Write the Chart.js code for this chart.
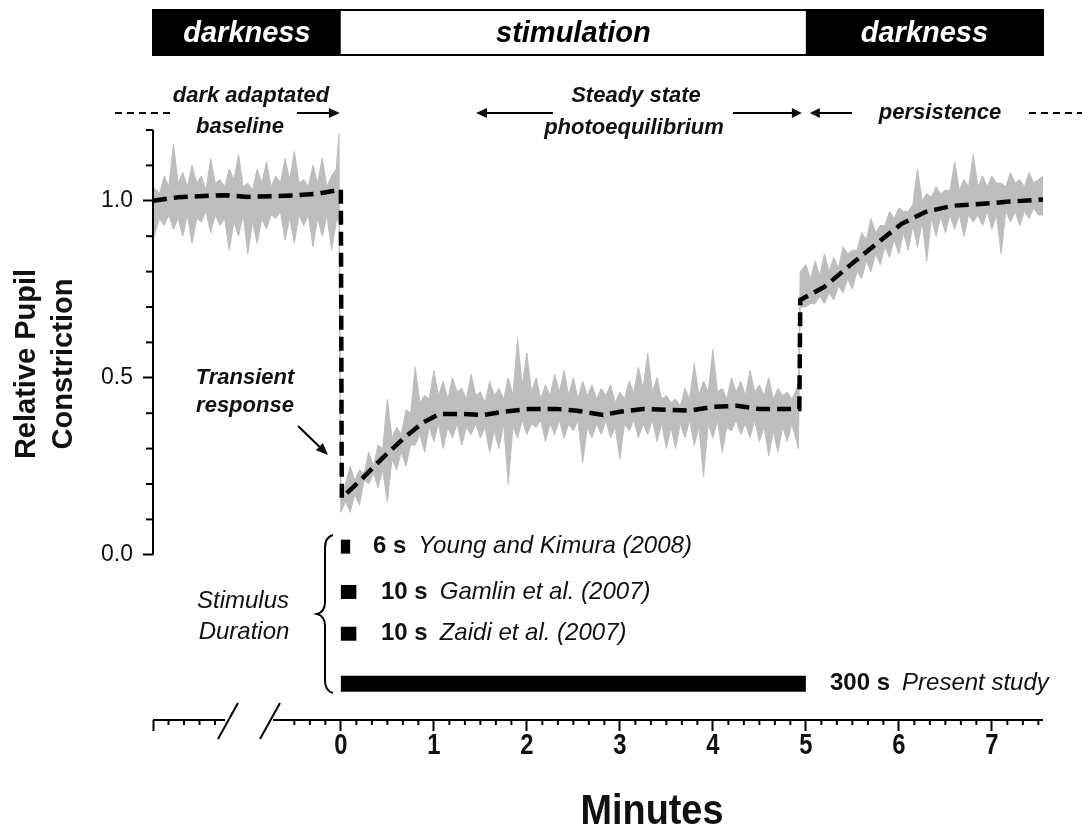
<!DOCTYPE html>
<html>
<head>
<meta charset="utf-8">
<title>Relative pupil constriction</title>
<script src="https://cdn.jsdelivr.net/npm/chart.js@4.4.1/dist/chart.umd.min.js"></script>
<style>
  html, body { margin: 0; padding: 0; background: #fff; }
  canvas { display: block; }
</style>
</head>
<body>
<canvas id="pupilChart" width="1082" height="837"></canvas>
<script>
// ---- data (time in minutes, relative constriction) ----
const meanTime = [-2.02, -1.75, -1.25, -1.0, -0.5, -0.25, 0.0,
  0.01, 0.24, 0.45, 0.67, 0.88, 1.06, 1.31, 1.53, 1.74, 2.03, 2.32, 2.54, 2.82, 3.0,
  3.25, 3.54, 3.75, 4.0, 4.26, 4.5, 4.86, 4.93,
  4.94, 5.2, 5.48, 5.77, 6.03, 6.29, 6.58, 6.87, 7.16, 7.55];
const meanValue = [1.0, 1.01, 1.016, 1.011, 1.015, 1.02, 1.032,
  0.161, 0.218, 0.274, 0.328, 0.373, 0.398, 0.398, 0.395, 0.404, 0.412, 0.412, 0.407, 0.395, 0.404,
  0.412, 0.409, 0.407, 0.418, 0.421, 0.412, 0.412, 0.412,
  0.72, 0.757, 0.819, 0.881, 0.935, 0.969, 0.986, 0.991, 0.997, 1.004];

// grey envelope of the raw trace (upper / lower edge)
const bandTime = [
  -2.02, -1.95, -1.9, -1.85, -1.8, -1.75, -1.7, -1.65, -1.6, -1.55, -1.5, -1.45, -1.4, -1.35, -1.3, -1.25, -1.2, -1.15, -1.1, -1.05,
  -1.0, -0.95, -0.9, -0.85, -0.8, -0.75, -0.7, -0.65, -0.6, -0.55, -0.5, -0.45, -0.4, -0.35, -0.3, -0.25, -0.2, -0.15, -0.1, -0.05, -0.02,
  0.0, 0.05, 0.1, 0.15, 0.2, 0.25, 0.3, 0.35, 0.4, 0.45, 0.5, 0.55, 0.6, 0.65, 0.7, 0.75, 0.8, 0.85, 0.9, 0.95,
  1.0, 1.05, 1.1, 1.15, 1.2, 1.25, 1.3, 1.35, 1.4, 1.45, 1.5, 1.55, 1.6, 1.65, 1.7, 1.75, 1.8, 1.85, 1.9, 1.95,
  2.0, 2.05, 2.1, 2.15, 2.2, 2.25, 2.3, 2.35, 2.4, 2.45, 2.5, 2.55, 2.6, 2.65, 2.7, 2.75, 2.8, 2.85, 2.9, 2.95,
  3.0, 3.05, 3.1, 3.15, 3.2, 3.25, 3.3, 3.35, 3.4, 3.45, 3.5, 3.55, 3.6, 3.65, 3.7, 3.75, 3.8, 3.85, 3.9, 3.95,
  4.0, 4.05, 4.1, 4.15, 4.2, 4.25, 4.3, 4.35, 4.4, 4.45, 4.5, 4.55, 4.6, 4.65, 4.7, 4.75, 4.8, 4.85, 4.92,
  4.94, 5.0, 5.05, 5.1, 5.15, 5.2, 5.25, 5.3, 5.35, 5.4, 5.45, 5.5, 5.55, 5.6, 5.65, 5.7, 5.75, 5.8, 5.85, 5.9, 5.95,
  6.0, 6.05, 6.1, 6.15, 6.2, 6.25, 6.3, 6.35, 6.4, 6.45, 6.5, 6.55, 6.6, 6.65, 6.7, 6.75, 6.8, 6.85, 6.9, 6.95,
  7.0, 7.05, 7.1, 7.15, 7.2, 7.25, 7.3, 7.35, 7.4, 7.45, 7.5, 7.55];
const bandUpper = [
  1.04, 1.02, 1.07, 1.04, 1.16, 1.05, 1.08, 1.04, 1.10, 1.05, 1.07, 1.03, 1.12, 1.05, 1.06, 1.04, 1.09, 1.06, 1.13, 1.04,
  1.05, 1.03, 1.09, 1.05, 1.11, 1.04, 1.07, 1.05, 1.12, 1.06, 1.14, 1.05, 1.06, 1.04, 1.10, 1.05, 1.12, 1.04, 1.07, 1.09, 1.19,
  0.17, 0.20, 0.25, 0.21, 0.24, 0.23, 0.29, 0.25, 0.31, 0.30, 0.44, 0.33, 0.36, 0.34, 0.41, 0.40, 0.53, 0.43, 0.45, 0.44,
  0.52, 0.45, 0.49, 0.44, 0.50, 0.46, 0.47, 0.44, 0.51, 0.45, 0.46, 0.43, 0.49, 0.45, 0.47, 0.44, 0.50, 0.45, 0.61, 0.48,
  0.57, 0.46, 0.50, 0.44, 0.48, 0.45, 0.51, 0.46, 0.52, 0.45, 0.50, 0.44, 0.49, 0.45, 0.48, 0.44, 0.47, 0.45, 0.48, 0.43,
  0.46, 0.44, 0.49, 0.46, 0.53, 0.47, 0.57, 0.46, 0.50, 0.44, 0.45, 0.43, 0.44, 0.42, 0.47, 0.44, 0.54, 0.45, 0.49, 0.46,
  0.58, 0.46, 0.47, 0.44, 0.50, 0.46, 0.49, 0.45, 0.52, 0.46, 0.48, 0.45, 0.50, 0.44, 0.47, 0.45, 0.46, 0.44, 0.48,
  0.80, 0.82, 0.78, 0.83, 0.79, 0.85, 0.80, 0.84, 0.81, 0.87, 0.85, 0.86, 0.86, 0.91, 0.89, 0.95, 0.91, 0.93, 0.93, 0.97, 0.95,
  0.98, 0.97, 0.97, 0.99, 1.09, 1.00, 1.02, 1.01, 1.04, 1.02, 1.03, 1.03, 1.11, 1.03, 1.06, 1.04, 1.13, 1.04, 1.07, 1.04,
  1.07, 1.05, 1.05, 1.04, 1.08, 1.05, 1.06, 1.04, 1.08, 1.05, 1.06, 1.07];
const bandLower = [
  0.89, 0.95, 0.93, 0.96, 0.92, 0.95, 0.90, 0.96, 0.88, 0.95, 0.94, 0.97, 0.91, 0.96, 0.93, 0.95, 0.86, 0.94, 0.90, 0.96,
  0.85, 0.94, 0.88, 0.95, 0.92, 0.96, 0.95, 0.97, 0.89, 0.95, 0.88, 0.96, 0.93, 0.96, 0.87, 0.95, 0.90, 0.96, 0.86, 0.94, 0.95,
  0.12, 0.15, 0.12, 0.17, 0.14, 0.21, 0.20, 0.23, 0.19, 0.24, 0.15, 0.27, 0.24, 0.29, 0.25, 0.31, 0.31, 0.34, 0.29, 0.36,
  0.32, 0.37, 0.30, 0.36, 0.33, 0.37, 0.31, 0.36, 0.34, 0.37, 0.33, 0.36, 0.29, 0.35, 0.30, 0.37, 0.20, 0.36, 0.33, 0.38,
  0.34, 0.37, 0.36, 0.38, 0.32, 0.37, 0.34, 0.38, 0.33, 0.37, 0.35, 0.38, 0.26, 0.36, 0.33, 0.37, 0.34, 0.38, 0.33, 0.36,
  0.27, 0.37, 0.35, 0.38, 0.33, 0.37, 0.34, 0.38, 0.32, 0.37, 0.30, 0.36, 0.30, 0.37, 0.33, 0.38, 0.31, 0.36, 0.22, 0.37,
  0.33, 0.38, 0.29, 0.36, 0.35, 0.38, 0.34, 0.37, 0.33, 0.38, 0.32, 0.36, 0.28, 0.35, 0.29, 0.36, 0.32, 0.37, 0.30,
  0.70, 0.70, 0.71, 0.71, 0.73, 0.71, 0.74, 0.72, 0.76, 0.74, 0.78, 0.75, 0.80, 0.78, 0.83, 0.80, 0.85, 0.82, 0.87, 0.84, 0.89,
  0.85, 0.91, 0.86, 0.93, 0.87, 0.94, 0.83, 0.95, 0.90, 0.955, 0.91, 0.96, 0.92, 0.96, 0.90, 0.96, 0.94, 0.96, 0.93, 0.97,
  0.92, 0.96, 0.85, 0.97, 0.94, 0.97, 0.93, 0.97, 0.95, 0.98, 0.96, 0.96];

const phaseNames = ['darkness', 'stimulation', 'darkness'];
const phaseBounds = [-2.02, 0, 5, 7.55];

const stimDurationSec = [6, 10, 10, 300];
const stimDurationText = ['6 s', '10 s', '10 s', '300 s'];
const stimSource = ['Young and Kimura (2008)', 'Gamlin et al. (2007)', 'Zaidi et al. (2007)', 'Present study'];

const xTickMinutes = [0, 1, 2, 3, 4, 5, 6, 7];
const yTickValues = [0, 0.5, 1.0];
const yTickLabels = ['0.0', '0.5', '1.0'];

// ---- layout ----
const X_MIN = -2.02, X_MAX = 7.55, Y_MIN = -0.4667, Y_MAX = 1.2;
const stimRowLevel = [0.023, -0.105, -0.223, -0.364];
const SANS = '"Liberation Sans", Arial, Helvetica, sans-serif';
const INK = '#111';
const BAND = '#bdbdbd';

const pts = (xs, ys) => xs.map((x, i) => ({ x: x, y: ys[i] }));

const datasets = [
  {
    label: 'mean',
    data: pts(meanTime, meanValue),
    borderColor: '#000',
    borderWidth: 4.5,
    borderDash: [14, 7],
    fill: false,
  },
];
stimDurationSec.forEach((sec, i) => {
  datasets.push({
    label: stimSource[i],
    data: [{ x: 0, y: stimRowLevel[i] }, { x: sec / 60, y: stimRowLevel[i] }],
    borderColor: '#000',
    borderWidth: i === 3 ? 16 : 14,
    borderCapStyle: 'butt',
    fill: false,
  });
});
datasets.push({
  label: 'upper',
  data: pts(bandTime, bandUpper),
  borderColor: BAND,
  borderWidth: 1,
  backgroundColor: BAND,
  fill: '+1',
});
datasets.push({
  label: 'lower',
  data: pts(bandTime, bandLower),
  borderColor: BAND,
  borderWidth: 1,
  fill: false,
});

function drawText(ctx, str, x, y, font, align, color) {
  ctx.font = font;
  ctx.textAlign = align || 'center';
  ctx.textBaseline = 'middle';
  ctx.fillStyle = color || INK;
  ctx.fillText(str, x, y);
}

// condensed text (no narrow face installed, so squeeze horizontally)
function drawNarrow(ctx, str, x, y, font, squeeze) {
  ctx.save();
  ctx.translate(x, y);
  ctx.scale(squeeze, 1);
  drawText(ctx, str, 0, 0, font);
  ctx.restore();
}

function drawArrow(ctx, x1, y1, x2, y2, head) {
  const a = Math.atan2(y2 - y1, x2 - x1);
  const h = head || 11;
  ctx.beginPath();
  ctx.moveTo(x1, y1);
  ctx.lineTo(x2 - Math.cos(a) * h * 0.6, y2 - Math.sin(a) * h * 0.6);
  ctx.stroke();
  ctx.beginPath();
  ctx.moveTo(x2, y2);
  ctx.lineTo(x2 - h * Math.cos(a) + 5 * Math.sin(a), y2 - h * Math.sin(a) - 5 * Math.cos(a));
  ctx.lineTo(x2 - h * Math.cos(a) - 5 * Math.sin(a), y2 - h * Math.sin(a) + 5 * Math.cos(a));
  ctx.closePath();
  ctx.fill();
}

const decorPlugin = {
  id: 'decor',
  beforeDraw(chart) {
    const ctx = chart.ctx;
    ctx.save();
    ctx.fillStyle = '#fff';
    ctx.fillRect(0, 0, chart.width, chart.height);
    ctx.restore();
  },
  afterDraw(chart) {
    const ctx = chart.ctx;
    const xs = chart.scales.x, ys = chart.scales.y;
    const X = v => xs.getPixelForValue(v);
    const Y = v => ys.getPixelForValue(v);
    const axisY = chart.chartArea.bottom;
    const left = chart.chartArea.left;
    ctx.save();
    ctx.strokeStyle = '#000';
    ctx.fillStyle = '#000';
    ctx.lineCap = 'butt';

    // phase bar on top
    const barTop = 10, barH = 45;
    phaseNames.forEach((name, i) => {
      const x0 = X(phaseBounds[i]), x1 = X(phaseBounds[i + 1]);
      const dark = name === 'darkness';
      ctx.fillStyle = dark ? '#000' : '#fff';
      ctx.fillRect(x0, barTop, x1 - x0, barH);
      drawText(ctx, name, (x0 + x1) / 2, barTop + barH / 2 + 1, 'italic bold 29px ' + SANS, 'center', dark ? '#fff' : '#000');
    });
    ctx.lineWidth = 2;
    ctx.strokeRect(X(phaseBounds[0]), barTop, X(phaseBounds[3]) - X(phaseBounds[0]), barH);

    // phase annotations
    const annFont = 'italic bold 22px ' + SANS;
    const arrowY = 113;
    ctx.fillStyle = '#000';
    ctx.lineWidth = 2;
    drawText(ctx, 'dark adaptated', 251, 96, annFont);
    drawText(ctx, 'baseline', 240, 127, annFont);
    ctx.setLineDash([7, 5]);
    ctx.beginPath(); ctx.moveTo(115, arrowY); ctx.lineTo(173, arrowY); ctx.stroke();
    ctx.setLineDash([]);
    drawArrow(ctx, 297, arrowY, X(0) - 1, arrowY);

    drawText(ctx, 'Steady state', 636, 96, annFont);
    drawText(ctx, 'photoequilibrium', 634, 128, annFont);
    drawArrow(ctx, 553, arrowY, 476, arrowY);
    drawArrow(ctx, 733, arrowY, X(5) - 4, arrowY, 10);
    drawArrow(ctx, 852, arrowY, X(5) + 4, arrowY, 10);
    drawText(ctx, 'persistence', 940, arrowY, annFont);
    ctx.setLineDash([7, 5]);
    ctx.beginPath(); ctx.moveTo(1029, arrowY); ctx.lineTo(1082, arrowY); ctx.stroke();
    ctx.setLineDash([]);

    // transient response note
    drawText(ctx, 'Transient', 245, 378, annFont);
    drawText(ctx, 'response', 245, 406, annFont);
    drawArrow(ctx, 298, 426, 328, 455, 12);

    // y axis line + minor ticks
    ctx.lineWidth = 2;
    ctx.beginPath();
    ctx.moveTo(left, Y(0)); ctx.lineTo(left, Y(Y_MAX));
    ctx.stroke();
    for (let k = 1; k <= 12; k++) {
      if (k === 5 || k === 10) continue;
      const py = Y(k / 10);
      ctx.beginPath(); ctx.moveTo(left - 7, py); ctx.lineTo(left, py); ctx.stroke();
    }

    // x axis with break
    const breakL = 225, breakR = 273;
    ctx.beginPath();
    ctx.moveTo(left, axisY); ctx.lineTo(breakL, axisY);
    ctx.moveTo(breakR, axisY); ctx.lineTo(X(X_MAX), axisY);
    ctx.stroke();
    ctx.beginPath();
    ctx.moveTo(218, axisY + 19); ctx.lineTo(238, axisY - 17);
    ctx.moveTo(260, axisY + 19); ctx.lineTo(280, axisY - 17);
    ctx.stroke();
    const minor = [];
    for (let k = 1; X(X_MIN + k / 6) < breakL - 6; k++) minor.push(X_MIN + k / 6);
    for (let k = 1; X(-k / 6) > breakR + 6; k++) minor.push(-k / 6);
    for (let k = 1; k / 6 < X_MAX; k++) if (k % 6 !== 0) minor.push(k / 6);
    minor.forEach(v => {
      ctx.beginPath(); ctx.moveTo(X(v), axisY); ctx.lineTo(X(v), axisY + 5); ctx.stroke();
    });

    // x tick labels (condensed bold digits)
    xTickMinutes.forEach(v => drawNarrow(ctx, String(v), X(v), axisY + 26, 'bold 29px ' + SANS, 0.82));

    // axis titles
    drawNarrow(ctx, 'Minutes', 652, 812, 'bold 42px ' + SANS, 0.9);
    ctx.save();
    ctx.translate(27, 364);
    ctx.rotate(-Math.PI / 2);
    drawText(ctx, 'Relative Pupil', 0, 0, 'bold 29px ' + SANS);
    ctx.restore();
    ctx.save();
    ctx.translate(64, 364);
    ctx.rotate(-Math.PI / 2);
    drawText(ctx, 'Constriction', 0, 0, 'bold 29px ' + SANS);
    ctx.restore();

    // stimulus duration legend
    drawText(ctx, 'Stimulus', 243, 601, 'italic 24px ' + SANS);
    drawText(ctx, 'Duration', 244, 632, 'italic 24px ' + SANS);
    ctx.lineWidth = 2;
    ctx.beginPath();
    ctx.moveTo(333, 535);
    ctx.quadraticCurveTo(325, 537, 325, 548);
    ctx.lineTo(325, 602);
    ctx.quadraticCurveTo(325, 612, 317, 614);
    ctx.quadraticCurveTo(325, 616, 325, 626);
    ctx.lineTo(325, 680);
    ctx.quadraticCurveTo(325, 691, 333, 693);
    ctx.stroke();

    const labelX = [373, 381, 381, 830];
    stimDurationText.forEach((txt, i) => {
      const py = Y(stimRowLevel[i]);
      const bold = 'bold 24px ' + SANS;
      ctx.font = bold;
      const w = ctx.measureText(txt).width;
      drawText(ctx, txt, labelX[i], py, bold, 'left');
      drawText(ctx, stimSource[i], labelX[i] + w + 12, py, 'italic 24px ' + SANS, 'left');
    });

    ctx.restore();
  },
};

new Chart(document.getElementById('pupilChart'), {
  type: 'line',
  data: { datasets: datasets },
  options: {
    responsive: false,
    animation: false,
    devicePixelRatio: 1,
    events: [],
    layout: { autoPadding: false, padding: { top: 130, right: 39, left: 0, bottom: 0 } },
    elements: { point: { radius: 0, hoverRadius: 0 }, line: { tension: 0 } },
    plugins: { legend: { display: false }, tooltip: { enabled: false } },
    scales: {
      x: {
        type: 'linear',
        min: X_MIN,
        max: X_MAX,
        afterBuildTicks: (scale) => {
          scale.ticks = [X_MIN].concat(xTickMinutes).map(v => ({ value: v }));
        },
        afterFit: (scale) => { scale.height = 117; },
        border: { display: false },
        grid: { drawOnChartArea: false, tickLength: 11, tickWidth: 2, tickColor: '#000' },
        ticks: { display: false, autoSkip: false, maxRotation: 0 },
      },
      y: {
        type: 'linear',
        min: Y_MIN,
        max: Y_MAX,
        afterBuildTicks: (scale) => {
          scale.ticks = yTickValues.map(v => ({ value: v }));
        },
        afterFit: (scale) => { scale.width = 153; },
        border: { display: false },
        grid: { drawOnChartArea: false, tickLength: 10, tickWidth: 2, tickColor: '#000' },
        ticks: {
          padding: 10,
          color: INK,
          font: { family: SANS, size: 23 },
          callback: (v) => yTickLabels[yTickValues.indexOf(v)],
        },
      },
    },
  },
  plugins: [decorPlugin],
});
</script>
</body>
</html>
